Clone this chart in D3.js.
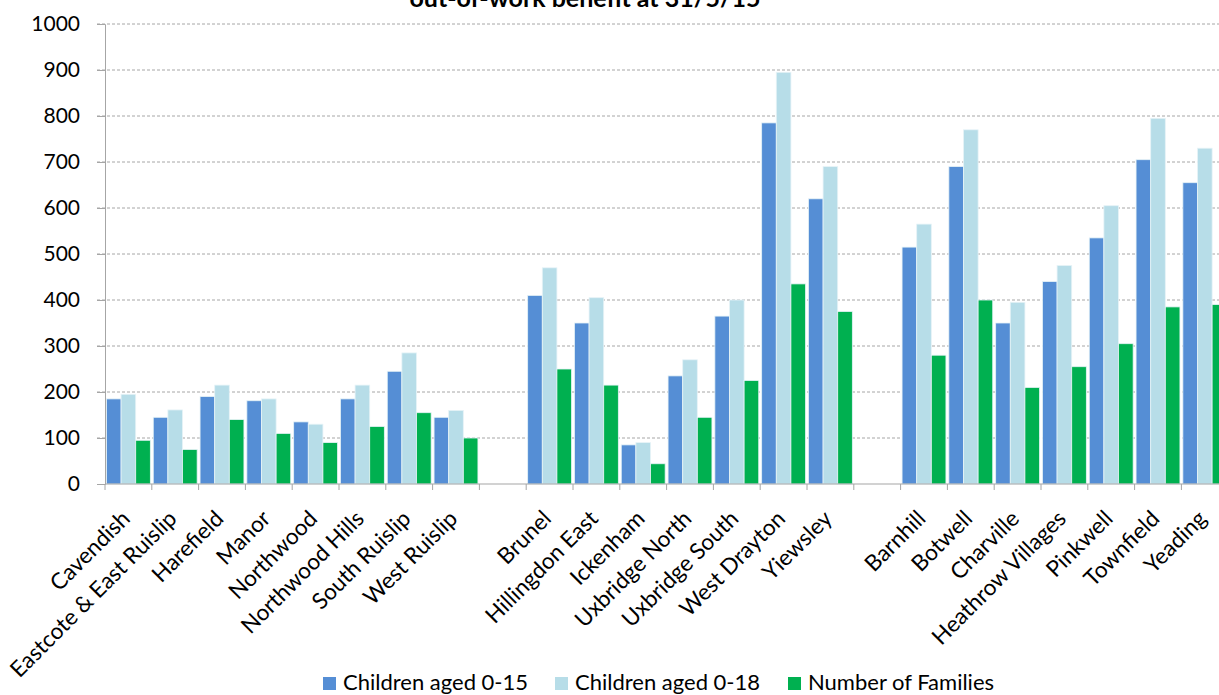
<!DOCTYPE html>
<html>
<head>
<meta charset="utf-8">
<script src="https://cdn.jsdelivr.net/npm/d3@7"></script>
<style>
  html, body { margin: 0; padding: 0; background: #fff; }
  svg { display: block; font-family: Lato, "Open Sans", sans-serif; }
</style>
</head>
<body>
<div id="chart"></div>
<script>
// ---- data ----
const slots = [
  "Cavendish", "Eastcote & East Ruislip", "Harefield", "Manor", "Northwood",
  "Northwood Hills", "South Ruislip", "West Ruislip", "",
  "Brunel", "Hillingdon East", "Ickenham", "Uxbridge North", "Uxbridge South",
  "West Drayton", "Yiewsley", " ",
  "Barnhill", "Botwell", "Charville", "Heathrow Villages", "Pinkwell",
  "Townfield", "Yeading"
];
const seriesNames = ["Children aged 0-15", "Children aged 0-18", "Number of Families"];
const children015 = [185, 145, 190, 181, 135, 185, 245, 145, null,
                     410, 350, 85, 235, 365, 785, 620, null,
                     515, 690, 350, 440, 535, 705, 655];
const children018 = [195, 161, 215, 185, 130, 215, 285, 160, null,
                     470, 405, 90, 270, 400, 895, 690, null,
                     565, 770, 395, 475, 605, 795, 730];
const families    = [95, 75, 140, 110, 90, 125, 155, 100, null,
                     250, 215, 44, 145, 225, 435, 375, null,
                     280, 400, 210, 255, 305, 385, 390];
const yTicks = [0, 100, 200, 300, 400, 500, 600, 700, 800, 900, 1000];
const titleLine = "out-of-work benefit at 31/5/15";

// ---- layout ----
const W = 1219, H = 695;
const colors = ["#558ed5", "#b7dde8", "#00b050"];
const svg = d3.select("#chart").append("svg").attr("width", W).attr("height", H);

const x0 = 105, slotW = 46.8;
const x = d3.scaleBand().domain(slots.map((d, i) => i)).range([x0, x0 + slotW * slots.length]).padding(0);
const xInner = d3.scaleBand().domain([0, 1, 2]).range([0, x.bandwidth()]).paddingOuter(0.1).paddingInner(0);
const y = d3.scaleLinear().domain([0, 1000]).range([484, 24]);

// title (partially visible at the top edge, as in the reference)
svg.append("text").attr("x", 585).attr("y", 7).attr("text-anchor", "middle")
  .attr("font-weight", "bold").attr("font-size", 25).attr("fill", "#000").text(titleLine);

// gridlines
svg.append("g").selectAll("line").data(yTicks.filter(d => d > 0)).join("line")
  .attr("x1", 97).attr("x2", W).attr("y1", d => y(d)).attr("y2", d => y(d))
  .attr("stroke", "#a6a6a6").attr("stroke-width", 1).attr("stroke-dasharray", "3,2");

// y axis
const yAxis = d3.axisLeft(y).tickValues(yTicks).tickFormat(d3.format("d")).tickSize(8).tickPadding(17);
const gy = svg.append("g").attr("transform", `translate(${x0},0)`).call(yAxis);
gy.select(".domain").attr("stroke", "#a6a6a6");
gy.selectAll(".tick line").attr("stroke", "#a6a6a6");
gy.selectAll(".tick text").attr("font-size", 21).attr("fill", "#000")
  .attr("font-family", "Lato, sans-serif");

// bars
const data = slots.map((s, i) => ({ i, vals: [children015[i], children018[i], families[i]] }));
const groups = svg.append("g").selectAll("g").data(data).join("g")
  .attr("transform", d => `translate(${x(d.i)},0)`);
groups.selectAll("rect").data(d => d.vals.map((v, k) => ({ v, k })).filter(e => e.v != null)).join("rect")
  .attr("x", e => xInner(e.k)).attr("width", xInner.bandwidth())
  .attr("y", e => y(e.v)).attr("height", e => y(0) - y(e.v))
  .attr("fill", e => colors[e.k]).attr("stroke", "#e6f3f7").attr("stroke-width", 0.8);

// x axis line + ticks at slot boundaries
svg.append("line").attr("x1", x0).attr("x2", W).attr("y1", y(0)).attr("y2", y(0))
  .attr("stroke", "#a6a6a6").attr("stroke-width", 1.2);
const boundaries = d3.range(slots.length + 1).map(i => x0 + i * x.step());
svg.append("g").selectAll("line").data(boundaries).join("line")
  .attr("x1", d => d).attr("x2", d => d).attr("y1", y(0)).attr("y2", y(0) + 6)
  .attr("stroke", "#a6a6a6");

// x labels
svg.append("g").selectAll("text").data(data.filter(d => slots[d.i].trim() !== "")).join("text")
  .attr("transform", d => `translate(${x(d.i) + x.bandwidth() / 2 + 3},520) rotate(-45)`)
  .attr("text-anchor", "end").attr("font-size", 22.5).attr("fill", "#000")
  .text(d => slots[d.i]);

// legend
const legX = [323, 555, 788];
const leg = svg.append("g").selectAll("g").data(seriesNames).join("g")
  .attr("transform", (d, i) => `translate(${legX[i]},0)`);
leg.append("rect").attr("x", 0).attr("y", 677).attr("width", 13).attr("height", 13)
  .attr("fill", (d, i) => colors[i]);
leg.append("text").attr("x", 20).attr("y", 690).attr("font-size", 22).attr("fill", "#000").text(d => d);
</script>
</body>
</html>
